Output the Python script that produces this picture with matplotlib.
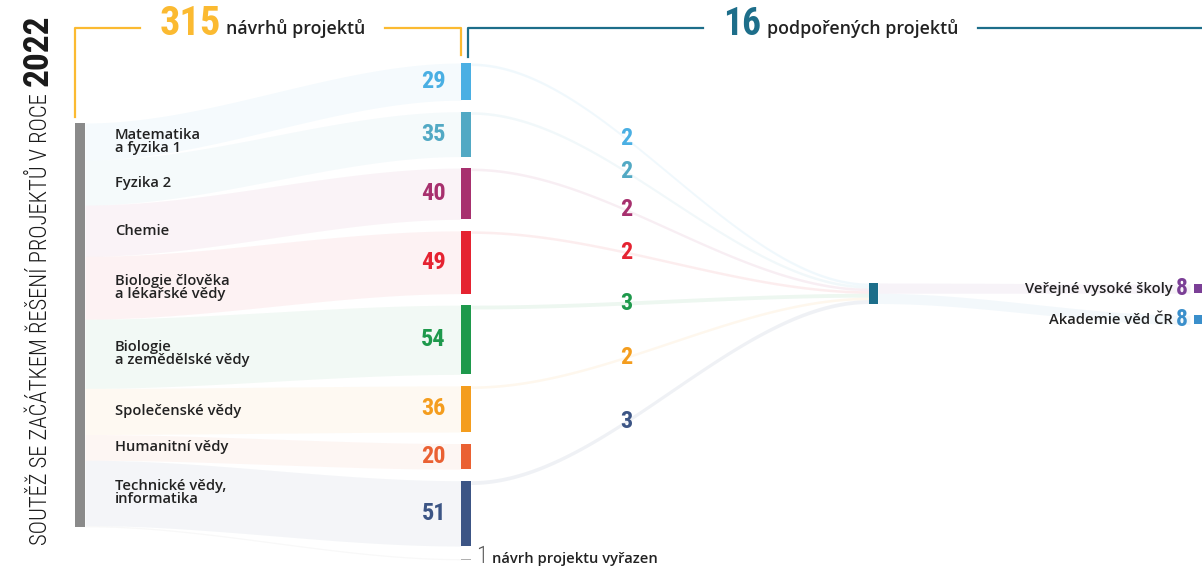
import os
import numpy as np
import matplotlib
matplotlib.use('Agg')
import matplotlib.pyplot as plt
from matplotlib import font_manager
from matplotlib.font_manager import FontProperties
from matplotlib.patches import Rectangle

# --- data ---
categories = ['Matematika\na fyzika 1', 'Fyzika 2', 'Chemie',
              'Biologie člověka\na lékařské vědy', 'Biologie\na zemědělské vědy',
              'Společenské vědy', 'Humanitní vědy', 'Technické vědy,\ninformatika']
proposals = [29, 35, 40, 49, 54, 36, 20, 51]
supported = [2, 2, 2, 2, 3, 2, 0, 3]
rejected = 1
institutions = ['Veřejné vysoké školy', 'Akademie věd ČR']
inst_counts = [8, 8]
year = '2022'

cat_colors = ['#4AAFE3', '#52A9C4', '#A7306E', '#E52331',
              '#1E994C', '#F49D1E', '#EA6133', '#3C5585']
inst_colors = ['#7B3F96', '#3A8FCB']
ORANGE = '#FBBA31'
TEAL = '#1D6E8A'
GRAY = '#8A8A8A'
DARK = '#222222'

# fonts
names = {f.name for f in font_manager.fontManager.ttflist}
SANS = next((c for c in ['Open Sans', 'Noto Sans', 'DejaVu Sans'] if c in names), 'DejaVu Sans')


def find_condensed(target):
    prio = ['Roboto Condensed', 'Noto Sans', 'Open Sans', 'Liberation Sans Narrow', 'DejaVu Sans']
    best, best_score = None, None
    for f in font_manager.fontManager.ttflist:
        base = os.path.basename(f.fname)
        cond = ('condensed' in str(f.stretch).lower() or 'Condensed' in f.name
                or 'Narrow' in f.name or 'Condensed' in base or 'Narrow' in base)
        if not cond or f.style != 'normal' or 'Semi' in base or 'Extra' in base or 'Italic' in base:
            continue
        w = f.weight if isinstance(f.weight, int) else font_manager.weight_dict.get(f.weight, 400)
        p = next((i for i, c in enumerate(prio) if c in f.name), len(prio))
        score = p * 1000 + abs(w - target)
        if best_score is None or score < best_score:
            best, best_score = f.fname, score
    return best


COND = {'bold': find_condensed(700), 'light': find_condensed(300)}


def ctext(x, y, s, size, weight='bold', **kw):
    path = COND[weight]
    if path:
        fp = FontProperties(fname=path, size=size)
        return ax.text(x, y, s, fontproperties=fp, **kw)
    return ax.text(x, y, s, fontsize=size, family='DejaVu Sans',
                   fontweight='bold' if weight == 'bold' else 'normal', **kw)


W, H = 1202, 566
fig = plt.figure(figsize=(W / 100, H / 100), dpi=100)
ax = fig.add_axes([0, 0, 1, 1])
ax.set_xlim(0, W)
ax.set_ylim(H, 0)
ax.axis('off')

# layout
k = 1.282          # px per project
gap = 11.5
X_SRC, X_CAT, X_SUP, X_INST = (75, 10), (461, 10), (869, 9), (1194, 8)
src_top, cat_top, sup_top, inst_top, inst_gap = 123, 63, 283, 284, 22
LBL = dict(family=SANS, color=DARK, fontweight='semibold')


def band(x0, x1, a0, a1, b0, b1, color, alpha):
    xs = np.linspace(x0, x1, 200)
    t = (xs - x0) / (x1 - x0)
    s = t * t * (3 - 2 * t)
    ax.fill_between(xs, a0 + (b0 - a0) * s, a1 + (b1 - a1) * s,
                    color=color, alpha=alpha, lw=0)


def curve_y(x0, x1, y0, y1, x):
    t = (x - x0) / (x1 - x0)
    return y0 + (y1 - y0) * t * t * (3 - 2 * t)


vals = proposals + [rejected]
total = sum(vals)
src_edges = src_top + k * np.concatenate([[0], np.cumsum(vals)])
cat_y = [cat_top + k * sum(vals[:i]) + gap * i for i in range(len(vals))]
cat_y[-1] += 1  # rejected node sits a bit lower

# left gray bar
ax.add_patch(Rectangle((X_SRC[0], src_top), X_SRC[1], total * k, color=GRAY, lw=0))

# flows source -> categories
for i, v in enumerate(vals):
    col = cat_colors[i] if i < len(proposals) else GRAY
    band(X_SRC[0] + X_SRC[1], X_CAT[0], src_edges[i], src_edges[i + 1],
         cat_y[i], cat_y[i] + v * k, col, 0.055)

# category nodes + numbers + labels
for i, v in enumerate(proposals):
    ax.add_patch(Rectangle((X_CAT[0], cat_y[i]), X_CAT[1], v * k, color=cat_colors[i], lw=0))
    ctext(446, cat_y[i] + v * k / 2, str(v), 17.5, ha='right', va='center', color=cat_colors[i])
    ax.text(115, (src_edges[i] + src_edges[i + 1]) / 2, categories[i], ha='left',
            va='center', fontsize=10.6, linespacing=0.92, **LBL)

# rejected node
ax.add_patch(Rectangle((X_CAT[0], cat_y[-1]), X_CAT[1], rejected * k, color='#B0B0B0', lw=0))
ctext(488, 563, str(rejected), 17, weight='light', ha='right', va='baseline', color='#555555')
ax.text(492, 563, 'návrh projektu vyřazen', ha='left', va='baseline', fontsize=10.6, **LBL)

# flows categories -> supported node
n_sup = sum(supported)
acc = 0
lab_x = 626
for i, s in enumerate(supported):
    if s == 0:
        continue
    a0, a1 = cat_y[i], cat_y[i] + s * k
    b0, b1 = sup_top + acc * k, sup_top + (acc + s) * k
    band(X_CAT[0] + X_CAT[1], X_SUP[0], a0, a1, b0, b1, cat_colors[i], 0.08)
    ymid = curve_y(X_CAT[0] + X_CAT[1], X_SUP[0], (a0 + a1) / 2, (b0 + b1) / 2, lab_x)
    ctext(lab_x, ymid, str(s), 17.5, ha='center', va='center', color=cat_colors[i])
    acc += s

ax.add_patch(Rectangle((X_SUP[0], sup_top), X_SUP[1], n_sup * k, color=TEAL, lw=0))

# flows supported -> institutions
acc = 0
iy = inst_top
for j, c in enumerate(inst_counts):
    b0, b1 = sup_top + acc * k, sup_top + (acc + c) * k
    band(X_SUP[0] + X_SUP[1], X_INST[0] - 4, b0, b1, iy, iy + c * k * 0.9,
         inst_colors[j], 0.06)
    ax.add_patch(Rectangle((X_INST[0], iy), X_INST[1], c * k * 0.9, color=inst_colors[j], lw=0))
    yc = iy + c * k * 0.45
    ctext(1182, yc, str(c), 17, ha='center', va='center', color=inst_colors[j])
    ax.text(1173, yc, institutions[j], ha='right', va='center', fontsize=10.6, **LBL)
    acc += c
    iy += c * k * 0.9 + inst_gap

# headers
fig.canvas.draw()
r = fig.canvas.get_renderer()
inv = ax.transData.inverted()


def xspan(t):
    bb = t.get_window_extent(r)
    (x0, _), (x1, _) = inv.transform([[bb.x0, bb.y0], [bb.x1, bb.y1]])
    return x0, x1


hy = 28
t1 = ctext(221, 35, str(total), 29, ha='right', va='baseline', color=ORANGE)
t2 = ax.text(226, 34, 'návrhů projektů', ha='left', va='baseline', fontsize=12.8, **LBL)
l0, _ = xspan(t1)
_, r0 = xspan(t2)
lw = 1.6
ax.plot([X_SRC[0], X_SRC[0], l0 - 20], [117, hy, hy], color=ORANGE, lw=lw)
ax.plot([r0 + 20, X_CAT[0], X_CAT[0]], [hy, hy, 55], color=ORANGE, lw=lw)

t3 = ctext(761, 35, str(n_sup), 27, ha='right', va='baseline', color=TEAL)
t4 = ax.text(767, 34, 'podpořených projektů', ha='left', va='baseline', fontsize=12.8, **LBL)
l1, _ = xspan(t3)
_, r1 = xspan(t4)
ax.plot([468, 468, l1 - 20], [57, hy, hy], color=TEAL, lw=lw)
ax.plot([r1 + 20, W], [hy, hy], color=TEAL, lw=lw)

# vertical title, sized to fit its slot
ty = ctext(48, 15, year, 30, ha='right', va='baseline', rotation=90,
           rotation_mode='anchor', color='#1A1A1A')
tt = ctext(47, 545, 'SOUTĚŽ SE ZAČÁTKEM ŘEŠENÍ PROJEKTŮ V ROCE', 22, weight='light',
           ha='left', va='baseline', rotation=90, rotation_mode='anchor', color='#1A1A1A')
h_year = ty.get_window_extent(r).height
if h_year > 72:
    ty.set_fontsize(30 * 72 / h_year)
h_title = tt.get_window_extent(r).height
if h_title > 452:
    tt.set_fontsize(22 * 452 / h_title)

fig.savefig('out.png', dpi=100)
